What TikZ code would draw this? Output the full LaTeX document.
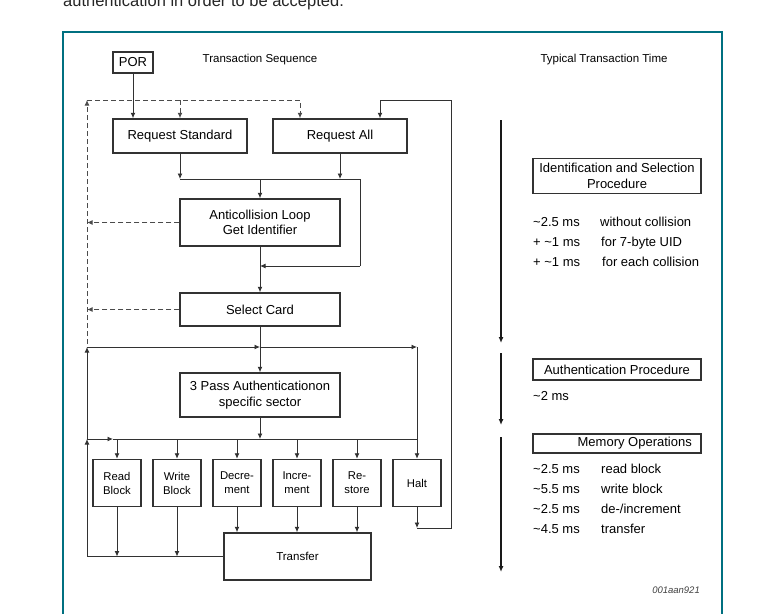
\documentclass[tikz,border=0pt]{standalone}
\usepackage{fontspec}
\setmainfont{Liberation Sans}
\usetikzlibrary{arrows.meta}
\definecolor{frameteal}{RGB}{0,112,128}
\definecolor{linegray}{RGB}{50,50,50}
\definecolor{dashgray}{RGB}{75,75,75}
\begin{document}
\begin{tikzpicture}[x=1pt,y=-1pt,
  box/.style={draw=linegray, line width=1.5pt, inner sep=0pt, font=\fontsize{13}{15.5}\selectfont},
  mlbox/.style={box, align=center},
  opbox/.style={mlbox, minimum width=48pt, minimum height=47pt, font=\fontsize{11.3}{14}\selectfont},
  line/.style={draw=linegray, line width=0.95pt},
  flow/.style={line, -{Latex[length=5.5pt,width=5pt]}},
  dflow/.style={draw=dashgray, line width=1pt, dash pattern=on 5pt off 3pt, -{Latex[length=5.5pt,width=5pt]}},
  tline/.style={draw=black!90, line width=1.3pt, -{Latex[length=6pt,width=5pt]}},
  small/.style={font=\fontsize{11.5}{14}\selectfont},
  txt/.style={font=\fontsize{13}{15}\selectfont, inner sep=0pt}]
\useasboundingbox (0,0) rectangle (765,613);
% page text and frame
\node[anchor=base west, inner sep=0pt, font=\fontsize{16.5}{19}\selectfont, text=black!85] (pagetxt) at (63,6.5) {authentication in order to be accepted.};
\draw[frameteal, line width=1.5pt] (63,625) -- (63,32) -- (722,32) -- (722,625);
% headings
\node[small] (seqhead) at (260,60) {Transaction Sequence};
\node[small] (timehead) at (604,60) {Typical Transaction Time};
% flow boxes
\node[box, minimum width=40pt, minimum height=21pt] (por) at (133,62.5) {POR};
\node[box, minimum width=134pt, minimum height=34pt] (reqstd) at (180,136) {Request Standard};
\node[box, minimum width=134pt, minimum height=34pt] (reqall) at (340,136) {Request All};
\node[mlbox, minimum width=160pt, minimum height=47pt] (anticoll) at (260,222.5) {Anticollision Loop\\Get Identifier};
\node[box, minimum width=160pt, minimum height=33pt] (select) at (260,309.5) {Select Card};
\node[mlbox, minimum width=160pt, minimum height=44pt] (auth) at (260,395) {3 Pass Authenticationon\\specific sector};
\node[opbox] (read) at (117,483) {Read\\Block};
\node[opbox] (write) at (177,483) {Write\\Block};
\node[opbox] (decr) at (237,483) {Decre-\\ment};
\node[opbox] (incr) at (297,483) {Incre-\\ment};
\node[opbox] (restore) at (357,483) {Re-\\store};
\node[box, minimum width=48pt, minimum height=47pt, font=\fontsize{11.3}{14}\selectfont] (halt) at (417,483) {Halt};
\node[box, minimum width=147pt, minimum height=47pt, font=\fontsize{11.5}{14}\selectfont] (transfer) at (297.5,556.5) {Transfer};
% junction points
\coordinate (dashTL) at (87,100);
\coordinate (dashTR) at (300,100);
\coordinate (dashB) at (87,344);
\coordinate (jA) at (180,179);
\coordinate (jB) at (360,179);
\coordinate (loopR) at (360,266);
\coordinate (busA) at (87,347);
\coordinate (busAr) at (417,347);
\coordinate (busB) at (87,439);
\coordinate (busBr) at (417,439);
\coordinate (busBa) at (113,439);
\coordinate (retL) at (87,556.5);
\coordinate (haltL) at (417,528);
\coordinate (haltR) at (451,528);
\coordinate (loopTop) at (451,100);
\coordinate (loopIn) at (380,100);
% dashed returns
\draw[dflow] (dashB) -- (dashTL);
\draw[dflow] (dashTL) -- (dashTR) -- (dashTR |- reqall.north);
\draw[dflow] (dashTL -| reqstd) -- (reqstd.north);
\draw[dflow] (anticoll.west) -- (anticoll.west -| dashTL);
\draw[dflow] (select.west) -- (select.west -| dashTL);
% solid flow
\draw[flow] (por.south) -- (por.south |- reqstd.north);
\draw[flow] (reqstd.south) -- (jA);
\draw[flow] (reqall.south) -- (jA -| reqall);
\draw[line] (jA) -- (jB) -- (loopR);
\draw[flow] (loopR) -- (loopR -| anticoll);
\draw[flow] (jA -| anticoll) -- (anticoll.north);
\draw[flow] (anticoll.south) -- (select.north);
\draw[flow] (select.south) -- (auth.north);
\draw[flow] (busA) -- (busA -| auth);
\draw[flow] (busA -| auth) -- (busAr);
\draw[flow] (busAr) -- (halt.north);
\draw[flow] (auth.south) -- (auth.south |- busB);
\draw[flow] (busB) -- (busBa);
\draw[line] (busBa) -- (busBr);
\foreach \op in {read,write,decr,incr,restore}
  \draw[flow] (busB -| \op) -- (\op.north);
\foreach \op in {read,write}
  \draw[flow] (\op.south) -- (\op.south |- retL);
\foreach \op in {decr,incr,restore}
  \draw[flow] (\op.south) -- (\op.south |- transfer.north);
\draw[line] (transfer.west) -- (retL);
\draw[flow] (retL) -- (busB);
\draw[flow] (busB) -- (busA);
\draw[flow] (halt.south) -- (haltL);
\draw[flow] (haltL) -- (haltR) -- (loopTop) -- (loopIn) -- (loopIn |- reqall.north);
% time line
\draw[tline] (501,120) -- (501,343);
\draw[tline] (501,353) -- (501,425);
\draw[tline] (501,437) -- (501,572);
\node[mlbox, minimum width=168pt, minimum height=35pt] (idsel) at (617,176) {Identification and Selection\\Procedure};
\node[txt, anchor=base west] (t1) at (533,226.3) {\textasciitilde 2.5 ms};
\node[txt, anchor=base west] (d1) at (600,226.3) {without collision};
\node[txt, anchor=base west] (t2) at (533,246.3) {+ \textasciitilde 1 ms};
\node[txt, anchor=base west] (d2) at (601,246.3) {for 7-byte UID};
\node[txt, anchor=base west] (t3) at (533,266.3) {+ \textasciitilde 1 ms};
\node[txt, anchor=base west] (d3) at (602,266.3) {for each collision};
\node[box, minimum width=168pt, minimum height=21pt] (authproc) at (617,369.5) {Authentication Procedure};
\node[box, minimum width=168pt, minimum height=19pt] (memops) at (617,443.5) {};
\node[txt, anchor=east] (memtxt) at (692,443.5) {Memory Operations};
\node[txt, anchor=base west] (t4) at (533,400.3) {\textasciitilde 2 ms};
\node[txt, anchor=base west] (t5) at (533,473) {\textasciitilde 2.5 ms};
\node[txt, anchor=base west] (d5) at (601,473) {read block};
\node[txt, anchor=base west] (t6) at (533,493) {\textasciitilde 5.5 ms};
\node[txt, anchor=base west] (d6) at (601,493) {write block};
\node[txt, anchor=base west] (t7) at (533,513) {\textasciitilde 2.5 ms};
\node[txt, anchor=base west] (d7) at (601,513) {de-/increment};
\node[txt, anchor=base west] (t8) at (533,533) {\textasciitilde 4.5 ms};
\node[txt, anchor=base west] (d8) at (601,533) {transfer};
\node[anchor=base east, inner sep=0pt, font=\itshape\fontsize{9.5}{11}\selectfont, text=black!75] (code) at (700,593) {001aan921};
\end{tikzpicture}
\end{document}
